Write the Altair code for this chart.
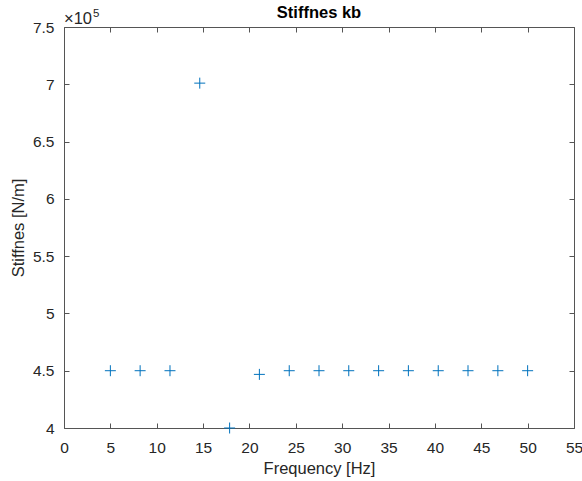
import altair as alt
import pandas as pd

freq = [5.0, 8.21, 11.43, 14.64, 17.86, 21.07, 24.29, 27.5, 30.71, 33.93, 37.14, 40.36, 43.57, 46.79, 50.0]
stiff = [450000, 450000, 450000, 701000, 400000, 446800, 450000, 450000, 450000,
         450000, 450000, 450000, 450000, 450000, 450000]
x_ticks = [0, 5, 10, 15, 20, 25, 30, 35, 40, 45, 50, 55]
y_ticks = [400000, 450000, 500000, 550000, 600000, 650000, 700000, 750000]

df = pd.DataFrame({"f": freq, "k": stiff})

FONT = "Liberation Sans"
TXT = "#262626"
AX = "#555555"
BLUE = "#0072BD"
PLUS = "M-1,0L1,0M0,-1L0,1"

xs = alt.Scale(domain=[0, 55], nice=False, zero=False)
ys = alt.Scale(domain=[400000, 750000], nice=False, zero=False)

main = alt.Chart(df).mark_point(
    shape=PLUS, filled=False, size=121, strokeWidth=1, color=BLUE, opacity=1, clip=False
).encode(
    x=alt.X("f:Q", scale=xs, axis=alt.Axis(
        orient="bottom", values=x_ticks, offset=-5, tickSize=5, domain=False, grid=False,
        tickColor=AX, labelColor=TXT, labelFont=FONT, labelFontSize=15.5, labelPadding=12,
        title="Frequency [Hz]", titleFont=FONT, titleFontSize=16.5, titleFontWeight="normal",
        titleColor=TXT, titlePadding=5, labelFlush=False)),
    y=alt.Y("k:Q", scale=ys, axis=alt.Axis(
        orient="left", values=y_ticks, offset=-5, tickSize=5, domain=False, grid=False,
        tickColor=AX, labelColor=TXT, labelFont=FONT, labelFontSize=15.5, labelPadding=10,
        labelExpr="datum.value / 100000",
        title="Stiffnes [N/m]", titleFont=FONT, titleFontSize=16.5, titleFontWeight="normal",
        titleColor=TXT, titlePadding=6, labelFlush=False)),
)

ghost = alt.Chart(df).mark_point(opacity=0).encode(
    x=alt.X("f:Q", scale=xs, axis=alt.Axis(
        orient="top", values=x_ticks, offset=-5, tickSize=5, domain=False, grid=False,
        labels=False, tickColor=AX, title=None)),
    y=alt.Y("k:Q", scale=ys, axis=alt.Axis(
        orient="right", values=y_ticks, offset=-5, tickSize=5, domain=False, grid=False,
        labels=False, tickColor=AX, title=None)),
)

title_txt = alt.Chart(pd.DataFrame({"t": ["Stiffnes kb"]})).mark_text(
    align="center", baseline="middle", font=FONT, fontSize=16.5, fontWeight="bold", color="#000000"
).encode(text="t:N", x=alt.value(255), y=alt.value(-14))

exp_base = alt.Chart(pd.DataFrame({"t": ["\u00d710"]})).mark_text(
    align="left", baseline="alphabetic", font=FONT, fontSize=16.5, color=TXT
).encode(text="t:N", x=alt.value(0), y=alt.value(-3))

exp_sup = alt.Chart(pd.DataFrame({"t": ["5"]})).mark_text(
    align="left", baseline="alphabetic", font=FONT, fontSize=11.5, color=TXT
).encode(text="t:N", x=alt.value(29), y=alt.value(-10))

chart = alt.layer(main, ghost, title_txt, exp_base, exp_sup).resolve_axis(
    x="independent", y="independent"
).properties(
    width=510, height=401,
    autosize=alt.AutoSizeParams(type="none"),
    padding={"left": 64, "top": 27, "right": 8, "bottom": 53},
    background="white",
).configure_view(stroke=AX, strokeWidth=1)

chart.save("out.html", embed_options={"renderer": "svg", "actions": False})
